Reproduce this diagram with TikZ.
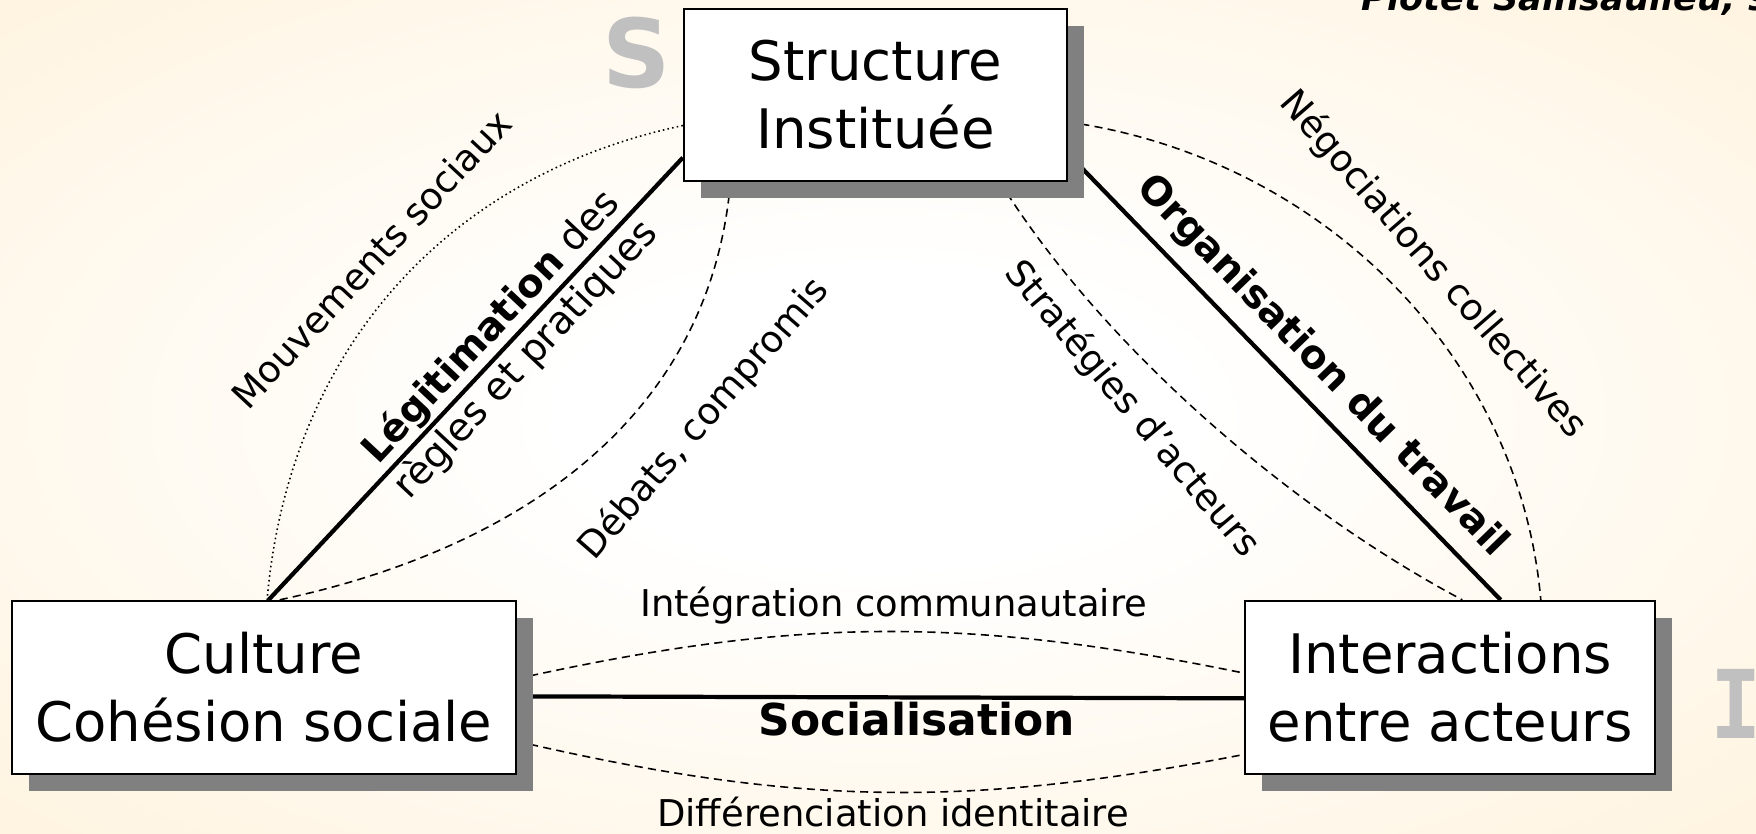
\documentclass[tikz,border=0pt]{standalone}
\usepackage{fontspec}
\setmainfont{DejaVu Sans}
\newfontfamily\slabfont{DejaVu Sans Mono}
\usetikzlibrary{shadows}

\definecolor{paper}{RGB}{255,241,217}
\definecolor{paperdark}{RGB}{254,236,203}
\definecolor{ombre}{RGB}{128,128,128}
\definecolor{lettre}{RGB}{192,192,192}
\pgfdeclareradialshading{papier}{\pgfpoint{0bp}{0bp}}{color(0bp)=(white); color(9bp)=(white); color(42bp)=(paper); color(72bp)=(paperdark)}
\pgfdeclarelayer{back}
\pgfsetlayers{back,main}

\begin{document}
\begin{tikzpicture}[style=thick,scale=1]
\newcommand{\grand}{\fontsize{15.5}{19.4}\selectfont}
\newcommand{\petit}{\fontsize{10.5}{12.6}\selectfont}
\newcommand{\gras}{\fontsize{12.5}{15}\selectfont\bfseries}
\tikzstyle{cadre}=[draw,fill=white,line width=0.65pt,align=center,inner sep=0pt,minimum height=1.73cm,font=\grand,drop shadow={shadow xshift=0.17cm,shadow yshift=-0.17cm,fill=ombre,opacity=1}]
\tikzstyle{lien}=[line width=1.2pt]
\tikzstyle{tiret}=[line width=0.45pt,dash pattern=on 2.3pt off 1.5pt]
\tikzstyle{pointille}=[line width=0.45pt,dash pattern=on 0.45pt off 0.9pt]
\tikzstyle{etiq}=[font=\petit,inner sep=0pt]
\tikzstyle{grosse}=[font=\fontsize{27}{27}\selectfont\bfseries,text=lettre,anchor=base,inner sep=0pt]

\useasboundingbox (0,0) rectangle (17.56,8.33);
\clip (0,0) rectangle (17.56,8.33);
\begin{pgfonlayer}{back}
\shade[shading=papier] (0,0) rectangle (17.56,8.33);
\end{pgfonlayer}

% les trois poles
\node[cadre,minimum width=3.83cm,minimum height=1.72cm] (Structure) at (8.755,7.38) {Structure\\Instituée};
\node[cadre,minimum width=5.04cm] (Culture) at (2.64,1.455) {Culture\\Cohésion sociale};
\node[cadre,minimum width=4.10cm] (Interactions) at (14.50,1.455) {Interactions\\entre acteurs};

\node[grosse] (S_lettre) at (6.37,7.46) {S};
\node[grosse,anchor=base east,xscale=0.9,font=\slabfont\fontsize{27}{27}\selectfont\bfseries] (I_lettre) at (17.63,0.95) {I};
\node[font=\fontsize{10}{12}\selectfont\bfseries\itshape,anchor=base west,inner sep=0pt] (source) at (13.61,8.23) {Piotet Sainsaulieu, 94};

\begin{pgfonlayer}{back}
% liens principaux
\draw[lien] (Culture.87) -- node[pos=0.58,sloped,font=\fontsize{11}{13.5}\selectfont,align=center,inner sep=0pt] (legit) {\textbf{Légitimation} des\\règles et pratiques} (Structure.198);
\draw[lien] (Structure.343) -- node[pos=0.53,sloped,above=0.13cm,font=\fontsize{11.2}{14}\selectfont\bfseries,inner sep=0pt] (orga) {Organisation du travail} (Interactions.60);
\draw[lien] (Culture.358) -- node[pos=0.55,below=0.03cm,font=\gras,inner sep=0pt] (social) {Socialisation} (Interactions.183);

% liens secondaires
\draw[pointille] (Structure.189) to[out=192,in=85,looseness=1.0] (Culture.88);
\draw[tiret] (Structure.211) to[out=265,in=12,looseness=1.0] (Culture.80);
\draw[tiret] (Structure.352) to[out=-8,in=95,looseness=0.95] (Interactions.44);
\draw[tiret] (Structure.325) to[out=-58,in=152,looseness=0.8] (Interactions.82);
\draw[tiret] (Culture.2) to[bend left=12] node[pos=0.52,above=2pt,etiq] (integ) {Intégration communautaire} (Interactions.176);
\draw[tiret] (Culture.348) to[bend right=12] node[pos=0.52,below=1pt,etiq] (diff) {Différenciation identitaire} (Interactions.198);
\end{pgfonlayer}

\node[etiq,rotate=47] (mouv) at (3.71,5.74) {Mouvements sociaux};
\node[etiq,rotate=49] (debats) at (7.04,4.14) {Débats, compromis};
\node[etiq,rotate=-50] (strat) at (11.32,4.24) {Stratégies d’acteurs};
\node[etiq,rotate=-49] (nego) at (14.33,5.68) {Négociations collectives};
\end{tikzpicture}
\end{document}
